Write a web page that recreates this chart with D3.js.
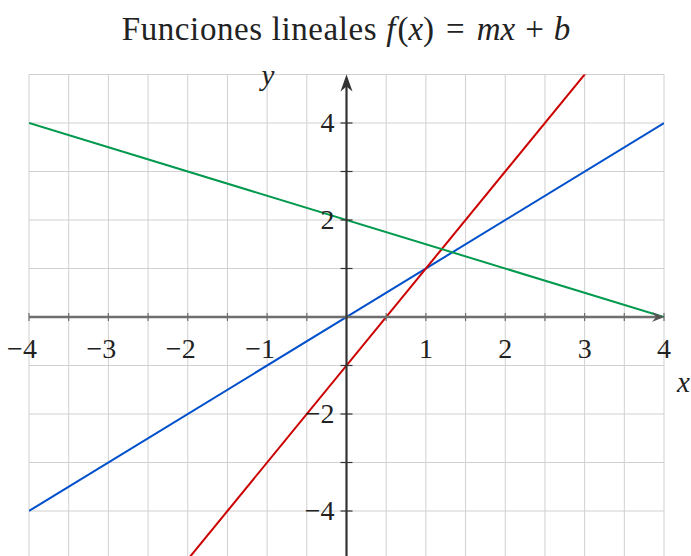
<!DOCTYPE html>
<html>
<head>
<meta charset="utf-8">
<script src="https://cdn.jsdelivr.net/npm/d3@7"></script>
<style>
  body { margin: 0; background: #fff; }
  text { font-family: "Liberation Serif", "DejaVu Serif", serif; fill: #222; }
</style>
</head>
<body>
<svg id="chart" width="691" height="556"></svg>
<script>
// Chart data
const xDomain = [-4, 4];
const yDomain = [-5, 5];
const xTickLabels = [-4, -3, -2, -1, 1, 2, 3, 4];
const yTickLabels = [-4, -2, 2, 4];
const yTicks = [-4, -3, -2, -1, 1, 2, 3, 4];
// lines y = m x + b
const slopes = [1, 2, -0.5];
const intercepts = [0, -1, 2];
const lineColors = ['#0050cc', '#cc0000', '#00994d'];

const svg = d3.select('#chart');
const x = d3.scaleLinear().domain(xDomain).range([29, 664]);
const y = d3.scaleLinear().domain(yDomain).range([559.5, 74.5]);

const minus = v => v < 0 ? '\u2212' + Math.abs(v) : String(v);

// clip to plot area
svg.append('clipPath').attr('id', 'plot')
  .append('rect')
  .attr('x', x(-4)).attr('y', y(5))
  .attr('width', x(4) - x(-4)).attr('height', y(-5) - y(5));

// grid
const grid = svg.append('g').attr('stroke', '#d0d0d0').attr('stroke-width', 1);
grid.selectAll('line.v')
  .data(d3.range(-4, 4.01, 0.5))
  .join('line')
  .attr('x1', d => x(d)).attr('x2', d => x(d))
  .attr('y1', y(5)).attr('y2', y(-5));
grid.selectAll('line.h')
  .data(d3.range(-5, 5.01, 1))
  .join('line')
  .attr('x1', x(-4)).attr('x2', x(4))
  .attr('y1', d => y(d)).attr('y2', d => y(d));

// function lines
const fns = slopes.map((m, i) => ({ m, b: intercepts[i], color: lineColors[i] }));
const lineGen = d3.line().x(d => x(d[0])).y(d => y(d[1]));
svg.append('g').attr('clip-path', 'url(#plot)')
  .selectAll('path')
  .data(fns)
  .join('path')
  .attr('d', f => lineGen(xDomain.map(v => [v, f.m * v + f.b])))
  .attr('fill', 'none')
  .attr('stroke', f => f.color)
  .attr('stroke-width', 2);

// x axis
svg.append('line')
  .attr('x1', x(-4)).attr('x2', x(4) - 2)
  .attr('y1', y(0)).attr('y2', y(0))
  .attr('stroke', '#6e6e6e').attr('stroke-width', 2.5);
svg.append('g').selectAll('line')
  .data(d3.range(-4, 4.01, 0.5))
  .join('line')
  .attr('x1', d => x(d)).attr('x2', d => x(d))
  .attr('y1', y(0) - 4).attr('y2', y(0) + 4)
  .attr('stroke', '#6e6e6e').attr('stroke-width', 1.2);
svg.append('path')
  .attr('d', `M${x(4) - 12},${y(0) - 5} L${x(4)},${y(0)} L${x(4) - 12},${y(0) + 5} L${x(4) - 8},${y(0)} Z`)
  .attr('fill', '#555');

svg.append('g').selectAll('text')
  .data(xTickLabels)
  .join('text')
  .attr('x', d => x(d) - (d < 0 ? 7 : 0))
  .attr('y', y(0) + 41)
  .attr('text-anchor', 'middle')
  .attr('font-size', 28)
  .text(minus);

// y axis
svg.append('line')
  .attr('x1', x(0)).attr('x2', x(0))
  .attr('y1', 556).attr('y2', y(5) + 4)
  .attr('stroke', '#333').attr('stroke-width', 2.2);
svg.append('g').selectAll('line')
  .data(yTicks)
  .join('line')
  .attr('x1', x(0) - 6).attr('x2', x(0) + 6)
  .attr('y1', d => y(d)).attr('y2', d => y(d))
  .attr('stroke', '#333').attr('stroke-width', 1.2);
svg.append('path')
  .attr('d', `M${x(0) - 6},${y(5) + 17} L${x(0)},${y(5)} L${x(0) + 6},${y(5) + 17} L${x(0)},${y(5) + 12} Z`)
  .attr('fill', '#333');

svg.append('g').selectAll('text')
  .data(yTickLabels)
  .join('text')
  .attr('x', x(0) - 12)
  .attr('y', d => y(d) + 9)
  .attr('text-anchor', 'end')
  .attr('font-size', 28)
  .text(minus);

// axis labels
svg.append('text')
  .attr('x', x(0) - 85).attr('y', y(5) + 10)
  .attr('font-size', 29).attr('font-style', 'italic')
  .text('y');
svg.append('text')
  .attr('x', 677).attr('y', y(0) + 75)
  .attr('font-size', 29).attr('font-style', 'italic')
  .text('x');

// title
const title = svg.append('text')
  .attr('x', 346).attr('y', 40)
  .attr('text-anchor', 'middle')
  .attr('font-size', 33);
title.append('tspan').attr('letter-spacing', 0.6).text('Funciones lineales');
title.append('tspan').attr('dx', 9).attr('font-style', 'italic').text('f');
title.append('tspan').attr('dx', 2).text('(');
title.append('tspan').attr('font-style', 'italic').text('x');
title.append('tspan').text(')');
title.append('tspan').attr('dx', 12).text('=');
title.append('tspan').attr('dx', 12).attr('font-style', 'italic').text('mx');
title.append('tspan').attr('dx', 10).text('+');
title.append('tspan').attr('dx', 10).attr('font-style', 'italic').text('b');
</script>
</body>
</html>
